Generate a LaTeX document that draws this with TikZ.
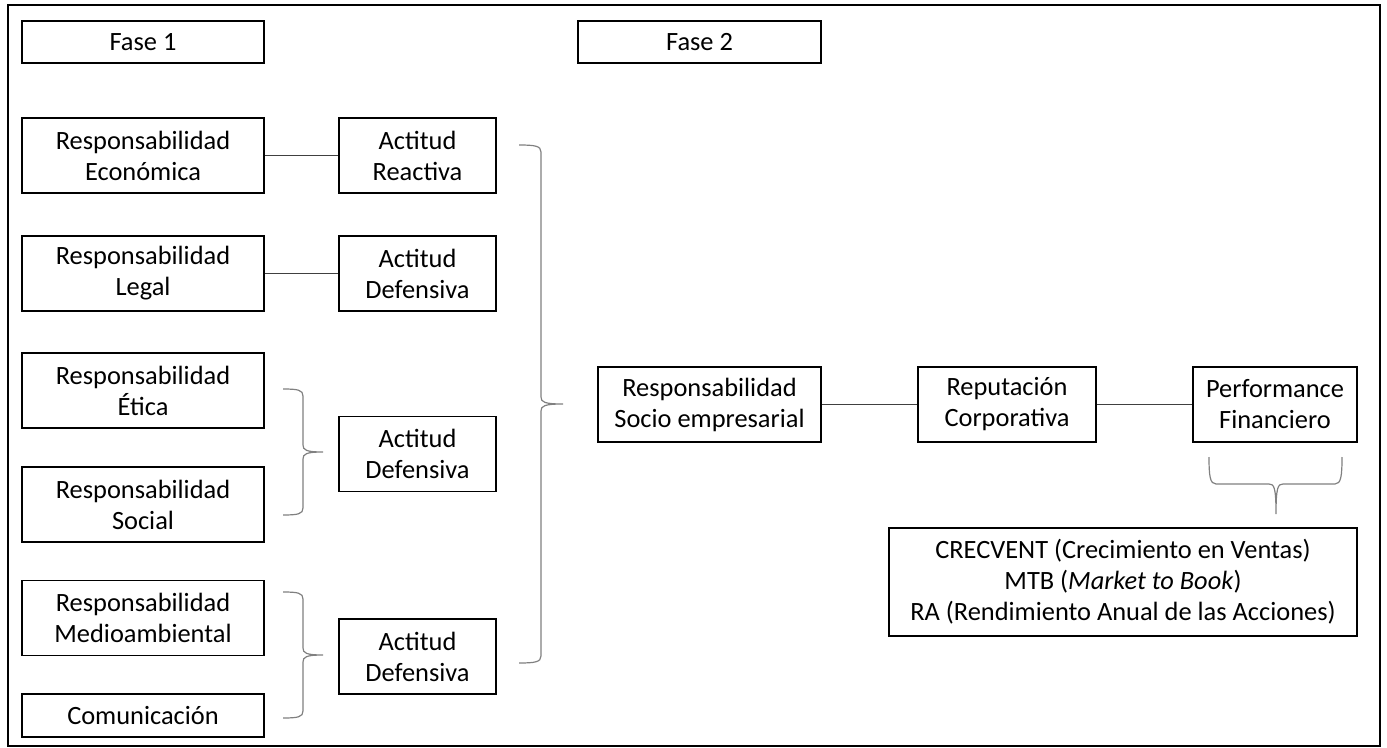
\documentclass[tikz,border=0pt]{standalone}
\usepackage{fontspec}
\setmainfont{Carlito}

\tikzset{every picture/.style={line width=0.75pt}}
\tikzset{
  caja/.style={draw, line width=1pt, align=center, inner sep=0pt, font=\fontsize{19.8}{23.25}\selectfont},
  cajares/.style={caja, minimum width=181.5pt, minimum height=56.25pt},
  cajaact/.style={caja, minimum width=117.75pt, minimum height=56.25pt},
  enlace/.style={draw={rgb, 255:red, 64; green, 64; blue, 64 }, line width=0.75pt},
  llave/.style={draw={rgb, 255:red, 128; green, 128; blue, 128 }, line width=0.9pt},
}

\begin{document}
\begin{tikzpicture}[x=0.75pt,y=0.75pt,yscale=-1,xscale=1]
	\useasboundingbox (0,0) rectangle (1387,748);

	%Shape: Rectangle (frame)
	\draw [line width=1.5pt] (8,5) rectangle (1380,746);

	%Fases
	\node [caja, minimum width=181.5pt, minimum height=31.5pt] (fase1) at (143,42) {Fase 1};
	\node [caja, minimum width=182.25pt, minimum height=31.5pt] (fase2) at (699.5,42) {Fase 2};

	%Responsabilidades
	\node [cajares] (econ) at (143,155.5) {Responsabilidad\\Económica};
	\node [cajares] (legal) at (143,273.5) {Responsabilidad\\Legal};
	\node [cajares] (etica) at (143,390.5) {Responsabilidad\\Ética};
	\node [cajares] (social) at (143,504.5) {Responsabilidad\\Social};
	\node [cajares] (medio) at (143,618) {Responsabilidad\\Medioambiental};
	\node [cajares, minimum height=32.25pt] (comunic) at (143,715.5) {Comunicación};

	%Actitudes
	\node [cajaact] (reactiva) at (417.5,155.5) {Actitud\\Reactiva};
	\node [cajaact] (defensivaA) at (417.5,273.5) {Actitud\\Defensiva};
	\node [cajaact] (defensivaB) at (417.5,454) {Actitud\\Defensiva};
	\node [cajaact] (defensivaC) at (417.5,656.5) {Actitud\\Defensiva};

	%Fase 2
	\node [caja, minimum width=167.25pt, minimum height=56.25pt] (socio) at (709.5,404.5) {Responsabilidad\\Socio empresarial};
	\node [caja, minimum width=133.5pt, minimum height=56.25pt] (reputacion) at (1007,404.5) {Reputación\\Corporativa};
	\node [caja, minimum width=123pt, minimum height=56.25pt] (performance) at (1275,404.5) {Performance\\Financiero};
	\node [caja, minimum width=351pt, minimum height=81pt] (medidas) at (1123,582) {CRECVENT (Crecimiento en Ventas)\\MTB (\textit{Market to Book})\\RA (Rendimiento Anual de las Acciones)};

	%Straight Lines
	\draw [enlace] (econ) -- (reactiva);
	\draw [enlace] (legal) -- (defensivaA);
	\draw [enlace] (socio) -- (reputacion);
	\draw [enlace] (reputacion) -- (performance);

	%Shape: Brace (Etica - Social)
	\draw [llave] (283,389) .. controls (298,389) and (303,390) .. (303,396) -- (303,445) .. controls (303,450) and (306,452) .. (323,452) .. controls (306,452) and (303,454) .. (303,459) -- (303,508) .. controls (303,514) and (298,515) .. (283,515) ;
	%Shape: Brace (Medioambiental - Comunicacion)
	\draw [llave] (283,592) .. controls (298,592) and (303,593) .. (303,599) -- (303,648) .. controls (303,653) and (306,655) .. (323,655) .. controls (306,655) and (303,657) .. (303,662) -- (303,711) .. controls (303,717) and (298,718) .. (283,718) ;
	%Shape: Brace (Actitudes)
	\draw [llave] (519,145) .. controls (535,145) and (541,146) .. (541,152) -- (541,397) .. controls (541,402) and (544,404) .. (563,404) .. controls (544,404) and (541,406) .. (541,411) -- (541,656) .. controls (541,662) and (535,663) .. (519,663) ;
	%Shape: Brace (Performance)
	\draw [llave] (1209,457) .. controls (1209,476) and (1210,484) .. (1216,484) -- (1269,484) .. controls (1274,484) and (1276,487) .. (1276,514) .. controls (1276,487) and (1278,484) .. (1283,484) -- (1335,484) .. controls (1341,484) and (1342,476) .. (1342,457) ;

\end{tikzpicture}
\end{document}
